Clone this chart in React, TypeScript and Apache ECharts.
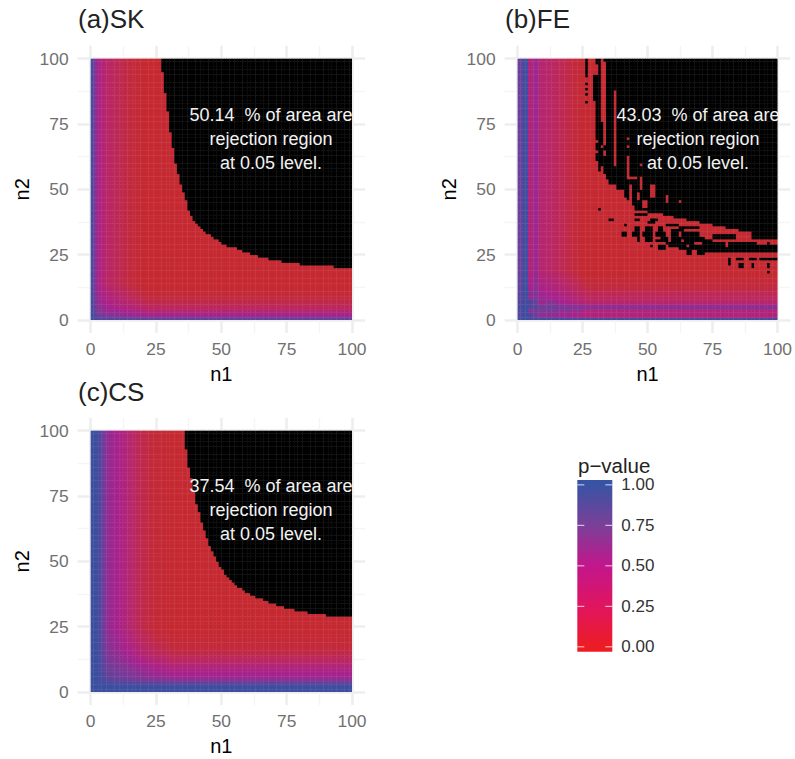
import React, { useEffect, useRef } from "react";
import * as echarts from "echarts";

// ---------- axis breaks ----------
const majorBreaks = [0, 25, 50, 75, 100];
const minorBreaks = [12.5, 37.5, 62.5, 87.5];
const legendTicks = [0, 0.25, 0.5, 0.75, 1];

// ---------- colour scales ----------
const rasterStops: [number, string][] = [
  [0, "#c6292c"], [0.15, "#c22a3c"], [0.3, "#bb2860"], [0.5, "#a8228c"], [0.75, "#723c98"], [1, "#3a4fa0"],
];
const legendStops: [number, string][] = [
  [0, "#ed1c24"], [0.25, "#e0155f"], [0.5, "#c2168c"], [0.75, "#7a4098"], [1, "#3953a4"],
];

// ---------- (a) SK : p-value along the n1 / n2 edges, last non-rejected n2 per n1 (from n1 = 28) ----------
const skColP = [0.95, 0.7, 0.55, 0.46, 0.4, 0.36, 0.33, 0.31, 0.29, 0.27, 0.25, 0.23, 0.21, 0.19, 0.17, 0.15, 0.13, 0.11, 0.09, 0.07, 0.06];
const skRowP = [0.82, 0.6, 0.46, 0.38, 0.32, 0.27, 0.23, 0.19, 0.16, 0.13, 0.1, 0.08, 0.06];
const skBoundary = [95, 87, 80, 72, 66, 60, 56, 52, 49, 46, 42, 40, 38, 37, 36, 35, 34, 33, 33, 32, 31, 31, 30, 29, 29, 28, 28, 28, 28, 27, 27, 26, 26, 26, 25, 25, 25, 24, 24, 24, 24, 23, 23, 23, 23, 23, 22, 22, 22, 22, 22, 22, 22, 21, 21, 21, 21, 21, 21, 21, 21, 21, 21, 21, 21, 21, 20, 20, 20, 20, 20, 20, 20];
const skBoundaryStart = 28;

// ---------- (c) CS ----------
const csColP = [0.99, 0.99, 0.97, 0.9, 0.8, 0.7, 0.62, 0.57, 0.54, 0.52, 0.5, 0.47, 0.44, 0.41, 0.38, 0.35, 0.32, 0.29, 0.26, 0.23, 0.2, 0.18, 0.16, 0.14, 0.12, 0.1, 0.09, 0.08, 0.07, 0.06];
const csRowP = [0.99, 0.98, 0.95, 0.85, 0.68, 0.58, 0.53, 0.5, 0.46, 0.42, 0.38, 0.34, 0.3, 0.26, 0.22, 0.19, 0.16, 0.14, 0.12, 0.1, 0.08, 0.07, 0.06];
const csBoundary = [100, 93, 86, 82, 77, 72, 69, 65, 62, 59, 56, 54, 52, 50, 48, 47, 45, 44, 43, 42, 41, 40, 40, 39, 38, 38, 37, 37, 36, 36, 36, 35, 35, 34, 34, 34, 33, 33, 33, 32, 32, 32, 32, 31, 31, 31, 31, 31, 30, 30, 30, 30, 30, 30, 30, 29, 29, 29, 29, 29, 29, 29, 29, 29, 29];
const csBoundaryStart = 36;

// ---------- (b) FE ----------
const feColP = [0.8, 0.8, 0.97, 0.97, 0.42, 0.42, 0.56, 0.56, 0.38, 0.36, 0.36, 0.34, 0.34, 0.3, 0.3, 0.28, 0.26, 0.24, 0.22, 0.2, 0.18, 0.15, 0.12, 0.1, 0.08, 0.06];
const feRowP = [0.92, 0.42, 0.42, 0.4, 0.62, 0.6, 0.36, 0.33, 0.3, 0.28, 0.24, 0.2, 0.17, 0.15, 0.12, 0.1, 0.08, 0.06];
const feBoundary = [
  52, 52, 52, 50, 50, 49, 47, 46, 45, 44, 42, 42, 42, 42, 42,
  41, 41, 41, 41, 41, 41, 40, 40, 40, 40, 39, 39, 39, 39, 39,
  38, 38, 38, 38, 38, 37, 37, 37, 37, 37, 36, 36, 36, 36, 36, 35, 35, 35, 35, 35,
  34, 34, 34, 34, 34, 31, 31, 31, 31, 31, 31, 31, 31, 31, 31,
];
const feBoundaryStart = 36;
// [n1 from, n1 to, n2 from, n2 to]
const feRedGaps = [
  [38, 38, 60, 88], [43, 43, 55, 63], [43, 43, 70, 70], [43, 43, 67, 67], [44, 46, 55, 55], [48, 48, 60, 60],
  [48, 48, 51, 55], [52, 53, 48, 52], [58, 58, 46, 48], [63, 63, 46, 46], [41, 41, 48, 50], [44, 44, 46, 52],
  [47, 47, 47, 49], [49, 50, 44, 46],
];
const feBlackSpecks = [
  [27, 27, 94, 100], [27, 27, 91, 91], [27, 27, 89, 89], [27, 27, 87, 87], [27, 27, 84, 84],
  [30, 30, 85, 94], [31, 31, 62, 64], [31, 31, 66, 68], [31, 31, 70, 94], [31, 31, 99, 100],
  [32, 32, 58, 100], [33, 33, 60, 66], [33, 33, 68, 76], [34, 34, 100, 100], [34, 34, 57, 63], [34, 34, 66, 67],
  [35, 35, 55, 100], [36, 37, 39, 39], [32, 32, 43, 43],
  [41, 42, 33, 34], [45, 47, 33, 34], [49, 52, 33, 34], [54, 57, 33, 34], [46, 47, 35, 36], [50, 52, 35, 36], [55, 56, 35, 36], [60, 64, 35, 35],
  [47, 47, 31, 32], [50, 52, 31, 32], [56, 58, 31, 32], [60, 62, 33, 34], [64, 70, 33, 34],
  [52, 52, 29, 29], [55, 57, 28, 29], [59, 65, 29, 29], [67, 80, 29, 29], [66, 67, 26, 27], [70, 72, 26, 27],
  [54, 57, 31, 31], [60, 63, 31, 32], [65, 75, 31, 31], [51, 53, 38, 38], [58, 62, 37, 37], [63, 70, 36, 36],
  [46, 47, 39, 39], [52, 54, 39, 39], [46, 50, 41, 41], [42, 42, 37, 37], [58, 68, 30, 30], [72, 80, 30, 30], [64, 72, 32, 32], [76, 84, 32, 33],
  [63, 72, 28, 28], [73, 100, 27, 28], [82, 100, 29, 30],
  [82, 82, 22, 24], [85, 87, 24, 24], [86, 87, 21, 22], [90, 92, 24, 24], [91, 91, 21, 22], [94, 100, 24, 24], [97, 97, 21, 22], [97, 97, 19, 19],
];
const feBlackCuts = [[93, 96, 30, 30], [98, 100, 30, 30]];
// darker spots in the low corner: [n1 from, n1 to, n2 from, n2 to, p]
const feCornerSpots = [
  [5, 6, 1, 3, 0.9], [5, 6, 6, 7, 0.92], [1, 6, 8, 8, 0.92], [5, 5, 11, 11, 0.85], [7, 8, 5, 6, 0.85], [8, 8, 11, 11, 0.75], [7, 8, 8, 8, 0.8], [12, 12, 8, 8, 0.7],
  [7, 16, 4, 4, 0.72], [19, 20, 4, 4, 0.7], [23, 24, 4, 4, 0.68], [13, 15, 7, 7, 0.72],
];

// ---------- annotations ----------
const skNote = ["50.14  % of area are", "rejection region", "at 0.05 level."];
const feNote = ["43.03  % of area are", "rejection region", "at 0.05 level."];
const csNote = ["37.54  % of area are", "rejection region", "at 0.05 level."];

const FONT = "'Liberation Sans', Arial, sans-serif";
const REJECTED = 0.01;

const hex = (c: string) => [1, 3, 5].map((k) => parseInt(c.slice(k, k + 2), 16));
const fillCache = new Map<number, string>();
function rasterFill(p: number): string {
  if (p < 0.05) return "#000000";
  const key = Math.round(p * 100);
  const hit = fillCache.get(key);
  if (hit) return hit;
  let out = rasterStops[rasterStops.length - 1][1];
  for (let s = 0; s < rasterStops.length - 1; s++) {
    const [a, ca] = rasterStops[s];
    const [b, cb] = rasterStops[s + 1];
    if (key / 100 <= b) {
      const t = (key / 100 - a) / (b - a);
      const A = hex(ca), B = hex(cb);
      out = `rgb(${A.map((v, k) => Math.round(v + (B[k] - v) * t)).join(",")})`;
      break;
    }
  }
  fillCache.set(key, out);
  return out;
}

const inRect = (r: number[], i: number, j: number) => i >= r[0] && i <= r[1] && j >= r[2] && j <= r[3];

function buildCells(colP: number[], rowP: number[], boundary: number[], start: number, gaps: number[][] = [], specks: number[][] = [], cuts: number[][] = [], spots: number[][] = []) {
  const cells: number[][] = [];
  for (let i = 1; i <= 100; i++) {
    for (let j = 1; j <= 100; j++) {
      const a = colP[i - 1] ?? 0;
      const b = rowP[j - 1] ?? 0;
      let p = Math.max(0.05, 1 - (1 - a) * (1 - b));
      const spot = spots.find((r) => inRect(r, i, j));
      if (spot) p = spot[4];
      const bound = i >= start ? boundary[i - start] : undefined;
      let black = bound !== undefined && j > bound;
      if (gaps.some((r) => inRect(r, i, j))) black = false;
      if (specks.some((r) => inRect(r, i, j))) black = true;
      if (cuts.some((r) => inRect(r, i, j))) black = false;
      if (black) p = REJECTED;
      cells.push([i, j, p]);
    }
  }
  return cells;
}

const panels = [
  { title: "(a)SK", titleX: 78, titleY: 6, zeroX: 90.7, zeroY: 320, cells: buildCells(skColP, skRowP, skBoundary, skBoundaryStart), note: skNote, noteX: 271, noteY: 115 },
  { title: "(b)FE", titleX: 505, titleY: 6, zeroX: 517.7, zeroY: 320, cells: buildCells(feColP, feRowP, feBoundary, feBoundaryStart, feRedGaps, feBlackSpecks, feBlackCuts, feCornerSpots), note: feNote, noteX: 698, noteY: 115 },
  { title: "(c)CS", titleX: 78, titleY: 379, zeroX: 90.7, zeroY: 692, cells: buildCells(csColP, csRowP, csBoundary, csBoundaryStart), note: csNote, noteX: 271, noteY: 486 },
];

function buildOption() {
  const UNIT = 2.613;
  const grids: any[] = [];
  const xAxes: any[] = [];
  const yAxes: any[] = [];
  const series: any[] = [];
  const titles: any[] = [];
  const graphics: any[] = [];
  const major = { show: true, lineStyle: { color: "#eeeeee", width: 2.6 } };
  const minor = { show: true, lineStyle: { color: "#f5f5f5", width: 1.4 } };

  panels.forEach((pn, k) => {
    const left = pn.zeroX - 5 * UNIT;
    const top = pn.zeroY - 105 * UNIT;
    grids.push({ left, top, width: 110 * UNIT, height: 110 * UNIT, containLabel: false });
    const base = { gridIndex: k, type: "value", min: -5, max: 105, axisLine: { show: false } };
    const xi = xAxes.length;
    xAxes.push({
      ...base, position: "bottom", name: "n1", nameLocation: "middle", nameGap: 31,
      nameTextStyle: { color: "#000000", fontSize: 20, fontFamily: FONT },
      axisTick: { show: false, customValues: majorBreaks },
      axisLabel: { customValues: majorBreaks, color: "#707070", fontSize: 17.4, fontFamily: FONT, margin: 7 },
      splitLine: major,
    });
    xAxes.push({ ...base, position: "top", axisTick: { show: false, customValues: minorBreaks }, axisLabel: { show: false }, splitLine: minor });
    const yi = yAxes.length;
    yAxes.push({
      ...base, position: "left", name: "n2", nameLocation: "middle", nameGap: 46, nameRotate: 90,
      nameTextStyle: { color: "#000000", fontSize: 20, fontFamily: FONT },
      axisTick: { show: false, customValues: majorBreaks },
      axisLabel: { customValues: majorBreaks, color: "#707070", fontSize: 17.4, fontFamily: FONT, margin: 9 },
      splitLine: major,
    });
    yAxes.push({ ...base, position: "right", axisTick: { show: false, customValues: minorBreaks }, axisLabel: { show: false }, splitLine: minor });

    series.push({
      type: "custom",
      name: pn.title,
      coordinateSystem: "cartesian2d",
      xAxisIndex: xi,
      yAxisIndex: yi,
      silent: true,
      progressive: 0,
      z: 3,
      encode: { x: 0, y: 1 },
      data: pn.cells,
      renderItem: (_: any, api: any) => {
        const i = api.value(0), j = api.value(1), p = api.value(2);
        const a = api.coord([i - 1, j]);
        const b = api.coord([i, j - 1]);
        return {
          type: "rect",
          shape: { x: a[0], y: a[1], width: b[0] - a[0] + (i < 100 ? 0.4 : 0), height: b[1] - a[1] + (j > 1 ? 0.4 : 0) },
          style: { fill: rasterFill(p) },
        };
      },
    });
    titles.push({ text: pn.title, left: pn.titleX, top: pn.titleY, padding: 0, textStyle: { fontFamily: FONT, fontSize: 26, fontWeight: "normal", color: "#222222" } });
    pn.note.forEach((line, n) => {
      graphics.push({
        type: "text", z: 100, x: pn.noteX, y: pn.noteY + n * 24,
        style: { text: line, fill: "#f2f2f2", font: `18px ${FONT}`, textAlign: "center", textVerticalAlign: "middle" },
      });
    });
  });

  // colour bar
  const lg = panels.length;
  grids.push({ left: 577.3, top: 480, width: 35, height: 171.7, containLabel: false });
  const lgX = xAxes.length;
  xAxes.push({ gridIndex: lg, type: "value", min: 0, max: 1, show: false });
  const lgY = yAxes.length;
  yAxes.push({
    gridIndex: lg, type: "value", min: -0.03, max: 1.03, position: "right",
    axisLine: { show: false }, splitLine: { show: false },
    axisTick: { show: false, customValues: legendTicks },
    axisLabel: { customValues: legendTicks, formatter: (v: number) => v.toFixed(2), color: "#333333", fontSize: 17, fontFamily: FONT, margin: 9 },
  });
  series.push({
    type: "custom", name: "p-value bar", coordinateSystem: "cartesian2d", xAxisIndex: lgX, yAxisIndex: lgY, silent: true, z: 3,
    data: [[0, 1, -0.03, 1.03]],
    encode: { x: [0, 1], y: [2, 3] },
    renderItem: (_: any, api: any) => {
      const a = api.coord([api.value(0), api.value(3)]);
      const b = api.coord([api.value(1), api.value(2)]);
      return {
        type: "rect",
        shape: { x: a[0], y: a[1], width: b[0] - a[0], height: b[1] - a[1] },
        style: {
          fill: {
            type: "linear", x: 0, y: 1, x2: 0, y2: 0,
            colorStops: legendStops.map(([o, c]) => ({ offset: (o + 0.03) / 1.06, color: c })),
          },
        },
      };
    },
  });
  series.push({
    type: "custom", name: "p-value ticks", coordinateSystem: "cartesian2d", xAxisIndex: lgX, yAxisIndex: lgY, silent: true, z: 4,
    data: legendTicks.map((v) => [0.5, v]),
    encode: { x: 0, y: 1 },
    renderItem: (_: any, api: any) => {
      const y = api.coord([0, api.value(1)])[1];
      const x0 = api.coord([0, 0])[0];
      const x1 = api.coord([1, 0])[0];
      const line = (from: number, to: number) => ({
        type: "line", shape: { x1: from, y1: y, x2: to, y2: y }, style: { stroke: "#ffffff", lineWidth: 1, opacity: 0.8 },
      });
      return { type: "group", children: [line(x0, x0 + 7), line(x1 - 7, x1)] };
    },
  });
  titles.push({ text: "p\u2212value", left: 578, top: 455, padding: 0, textStyle: { fontFamily: FONT, fontSize: 20.5, fontWeight: "normal", color: "#222222" } });

  return {
    animation: false,
    backgroundColor: "#ffffff",
    textStyle: { fontFamily: FONT },
    title: titles,
    grid: grids,
    xAxis: xAxes,
    yAxis: yAxes,
    series,
    graphic: { elements: graphics },
  };
}

export default function App() {
  const ref = useRef<HTMLDivElement>(null);
  useEffect(() => {
    const chart = echarts.init(ref.current!, undefined, { renderer: "svg" });
    chart.setOption(buildOption() as any);
    return () => chart.dispose();
  }, []);
  return <div ref={ref} style={{ position: "fixed", left: 0, top: 0, width: 795, height: 759 }} />;
}
